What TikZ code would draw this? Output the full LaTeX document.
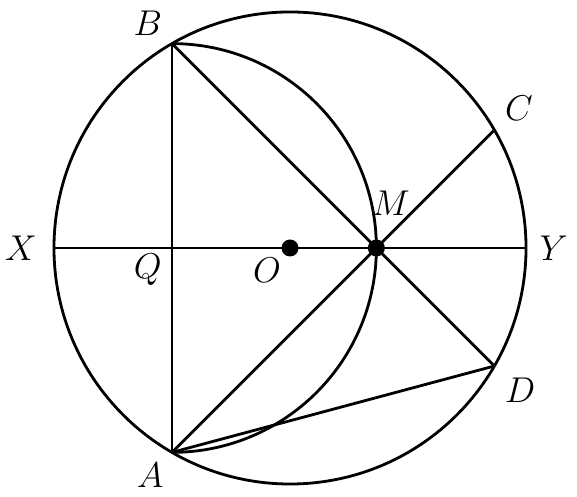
\documentclass[tikz,border=0pt]{standalone}
\usepackage{amsmath}
\usetikzlibrary{calc}

\begin{document}
\begin{tikzpicture}[line width=1.35pt,
    lbl/.style={font=\LARGE},
    pt/.style={circle,fill,inner sep=0pt,minimum size=8.2pt}]
    \useasboundingbox (-4.915,-4.22) rectangle (4.864,4.203);

    % points
    \coordinate (O) at (0,0);
    \coordinate (X) at (-4,0);
    \coordinate (Y) at (4,0);
    \coordinate (Q) at (-2,0);
    \coordinate (B) at (-2,3.464);
    \coordinate (A) at (-2,-3.464);
    \coordinate (M) at (1.464,0);
    \coordinate (C) at (3.464,2);
    \coordinate (D) at (3.464,-2);

    % circles
    \draw (O) circle (4);
    \draw (B) arc[start angle=90,end angle=-90,radius=3.464];

    % segments
    \draw (X) -- (Y);
    \draw (B) -- (A);
    \draw (B) -- (D);
    \draw (A) -- (C);
    \draw (A) -- (D);

    % dots
    \node[pt] (dotO) at (O) {};
    \node[pt] (dotM) at (M) {};

    % labels
    \node[lbl] (lB) at (-2.41,3.81) {$B$};
    \node[lbl] (lA) at (-2.37,-3.86) {$A$};
    \node[lbl] (lC) at (3.88,2.37) {$C$};
    \node[lbl] (lD) at (3.90,-2.41) {$D$};
    \node[lbl] (lX) at (-4.56,0) {$X$};
    \node[lbl] (lY) at (4.47,0) {$Y$};
    \node[lbl] (lQ) at (-2.41,-0.37) {$Q$};
    \node[lbl] (lO) at (-0.39,-0.37) {$O$};
    \node[lbl] (lM) at (1.71,0.76) {$M$};
\end{tikzpicture}
\end{document}
